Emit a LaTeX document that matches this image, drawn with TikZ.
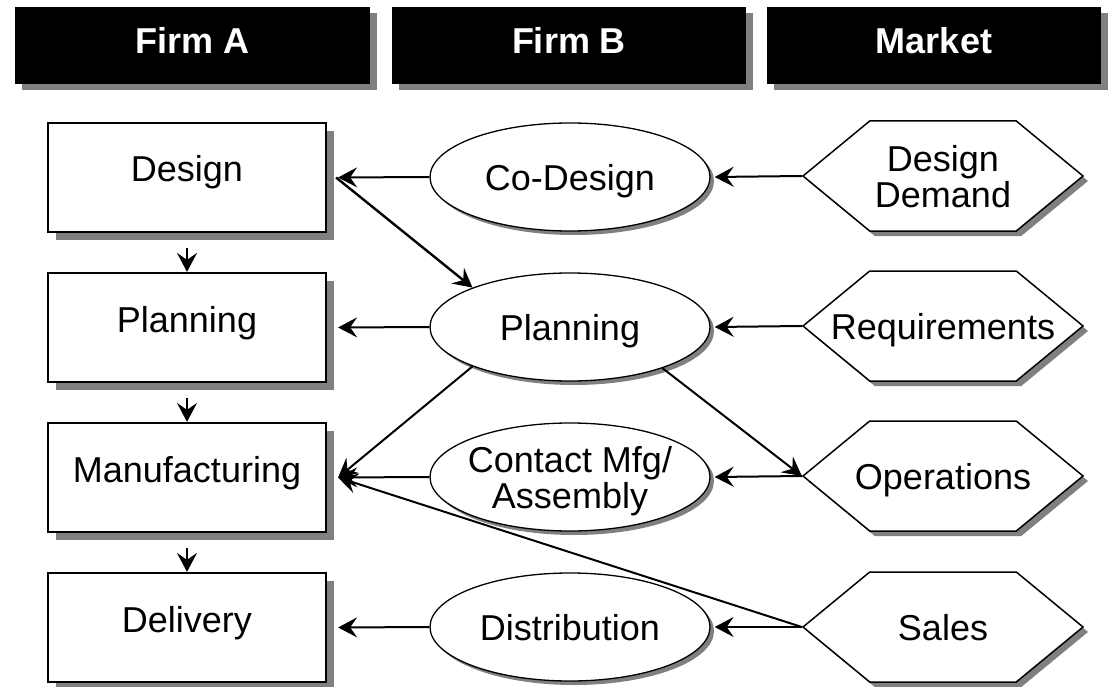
\documentclass[tikz,border=0pt]{standalone}
\usepackage{fontspec}
\setmainfont{Liberation Sans}
\usetikzlibrary{shapes.geometric,shapes.symbols,shadows,arrows.meta}

\tikzset{
  lbl/.style={font=\fontsize{36}{36}\selectfont, align=center, text depth=0pt},
  header/.style={fill=black, text=white, font=\fontsize{36}{38}\selectfont\bfseries,
    minimum height=77pt, inner sep=0pt, text depth=10pt,
    drop shadow={shadow xshift=7pt, shadow yshift=-6pt, fill=black!50, opacity=1}},
  firmbox/.style={font=\fontsize{36}{38}\selectfont, draw, line width=2.2pt, fill=white,
    minimum width=278pt, minimum height=109pt, inner sep=0pt,
    text height=26pt, text depth=17pt,
    drop shadow={shadow xshift=8pt, shadow yshift=-8pt, fill=black!50, opacity=1}},
  partner/.style={ellipse, draw, line width=1.3pt, fill=white, minimum width=280pt,
    minimum height=108pt, inner sep=0pt,
    drop shadow={shadow xshift=4pt, shadow yshift=-4pt, fill=black!50, opacity=1}},
  demand/.style={signal, signal to=east and west, signal pointer angle=79,
    draw, line width=1.5pt, fill=white, minimum width=280pt, minimum height=110pt,
    inner sep=0pt,
    drop shadow={shadow xshift=5pt, shadow yshift=-5pt, fill=black!50, opacity=1}},
  flow/.style={line width=2pt, -{Stealth[length=19pt,width=20pt,inset=7pt]}},
}

\begin{document}
\begin{tikzpicture}[x=1pt,y=-1pt]
    \useasboundingbox (0,0) rectangle (1108,687);

    % column headers
    \node[header, minimum width=355pt] (hfa) at (192.5,45.5) {Firm A};
    \node[header, minimum width=354pt] (hfb) at (569,45.5) {Firm B};
    \node[header, minimum width=334pt] (hmk) at (934,45.5) {Market};

    % firm A
    \node[firmbox] (des) at (187,177.5) {Design};
    \node[firmbox] (pla) at (187,327.5) {Planning};
    \node[firmbox] (mfg) at (187,477.5) {Manufacturing};
    \node[firmbox] (del) at (187,627.5) {Delivery};

    % firm B
    \node[partner, label={[lbl]center:Co-Design}] (cod) at (570,177) {};
    \node[partner, label={[lbl]center:Planning}] (pln) at (570,327) {};
    \node[partner, label={[lbl]center:Contact Mfg/\\Assembly}] (cma) at (570,477) {};
    \node[partner, label={[lbl]center:Distribution}] (dis) at (570,627) {};

    % market
    \node[demand, label={[lbl]center:Design\\Demand}] (ddm) at (943,176) {};
    \node[demand, label={[lbl]center:Requirements}] (req) at (943,326) {};
    \node[demand, label={[lbl]center:Operations}] (ops) at (943,476) {};
    \node[demand, label={[lbl]center:Sales}] (sal) at (943,627) {};

    % flows down firm A
    \draw[flow] ([yshift=-15pt]des.south) -- (pla.north);
    \draw[flow] ([yshift=-15pt]pla.south) -- (mfg.north);
    \draw[flow] ([yshift=-15pt]mfg.south) -- (del.north);

    % market -> firm B
    \draw[flow] (ddm.west) -- ([xshift=4pt]cod.east);
    \draw[flow] (req.west) -- ([xshift=4pt]pln.east);
    \draw[flow] (ops.west) -- ([xshift=4pt]cma.east);
    \draw[flow] (sal.west) -- ([xshift=4pt]dis.east);

    % firm B -> firm A
    \draw[flow] (cod.west) -- ([xshift=11pt]des.east);
    \draw[flow] (pln.west) -- ([xshift=11pt]pla.east);
    \draw[flow] (cma.west) -- ([xshift=11pt]mfg.east);
    \draw[flow] (dis.west) -- ([xshift=11pt]del.east);

    % cross links
    \draw[flow, line width=2.4pt] ([xshift=9pt]des.east) -- (pln.158);
    \draw[flow] (pln.202) -- ([xshift=11pt]mfg.east);
    \draw[flow] (pln.336) -- (ops.west);
    \draw[flow] (sal.west) -- ([xshift=11pt]mfg.east);
\end{tikzpicture}
\end{document}
